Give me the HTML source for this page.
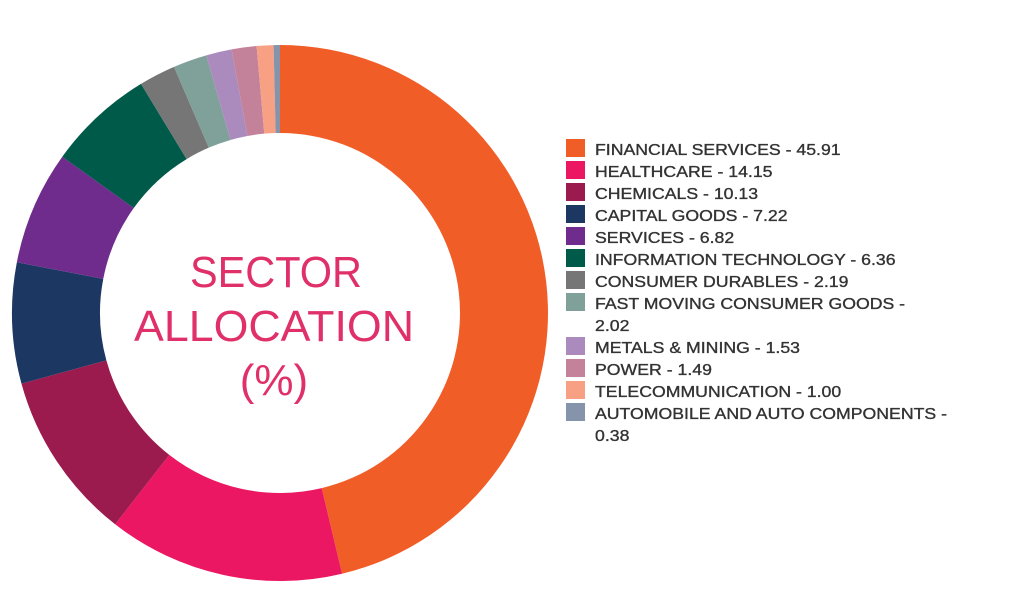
<!DOCTYPE html>
<html><head><meta charset="utf-8"><style>
body{margin:0;background:#fff;width:1018px;height:595px;overflow:hidden}
</style></head><body>
<svg width="1018" height="595" xmlns="http://www.w3.org/2000/svg">
<g id="d"></g>
<g font-family="Liberation Sans, sans-serif" fill="#e0306a" font-size="44" text-anchor="middle">
<text x="276" y="287" textLength="172" lengthAdjust="spacingAndGlyphs">SECTOR</text>
<text x="274" y="341" textLength="280" lengthAdjust="spacingAndGlyphs">ALLOCATION</text>
<text x="274" y="395">(%)</text>
</g>
<g id="s"></g>
<g transform="translate(595,0) scale(1.105,1)"><g id="l" font-family="Liberation Sans, sans-serif" font-size="16" fill="#333" stroke="#333" stroke-width="0.35"></g></g>
</svg>
<script>
var data=[["FINANCIAL SERVICES - 45.91",45.91,"#f15d27"],["HEALTHCARE - 14.15",14.15,"#eb1763"],["CHEMICALS - 10.13",10.13,"#9b1b4e"],["CAPITAL GOODS - 7.22",7.22,"#1c3762"],["SERVICES - 6.82",6.82,"#6f2c8d"],["INFORMATION TECHNOLOGY - 6.36",6.36,"#005a4a"],["CONSUMER DURABLES - 2.19",2.19,"#767676"],["FAST MOVING CONSUMER GOODS -|2.02",2.02,"#7fa199"],["METALS & MINING - 1.53",1.53,"#ab8bbd"],["POWER - 1.49",1.49,"#c4829a"],["TELECOMMUNICATION - 1.00",1.00,"#f7a084"],["AUTOMOBILE AND AUTO COMPONENTS -|0.38",0.38,"#8593ab"]];
var tot=0;data.forEach(function(d){tot+=d[1]});
var cx=280,cy=313,R=268,r=180,a=0,s="";
function p(rad,ang){return [cx+rad*Math.sin(ang),cy-rad*Math.cos(ang)];}
data.forEach(function(d){var b=a+d[1]/tot*2*Math.PI,lg=(b-a)>Math.PI?1:0;
var p1=p(R,a),p2=p(R,b),p3=p(r,b),p4=p(r,a);
s+='<path fill="'+d[2]+'" d="M'+p1+' A'+R+','+R+' 0 '+lg+' 1 '+p2+' L'+p3+' A'+r+','+r+' 0 '+lg+' 0 '+p4+'Z"/>';a=b;});
document.getElementById('d').innerHTML=s;
var y=139,l="",q="";
data.forEach(function(d){var parts=d[0].split('|');
q+='<rect x="566" y="'+y+'" width="19" height="18" fill="'+d[2]+'"/>';
l+='<text x="0" y="'+(y+16)+'">'+parts[0].replace('&','&amp;')+'</text>';
if(parts[1]){y+=22;l+='<text x="0" y="'+(y+16)+'">'+parts[1]+'</text>';}
y+=22;});
document.getElementById('l').innerHTML=l;
document.getElementById('s').innerHTML=q;
</script>
</body></html>
